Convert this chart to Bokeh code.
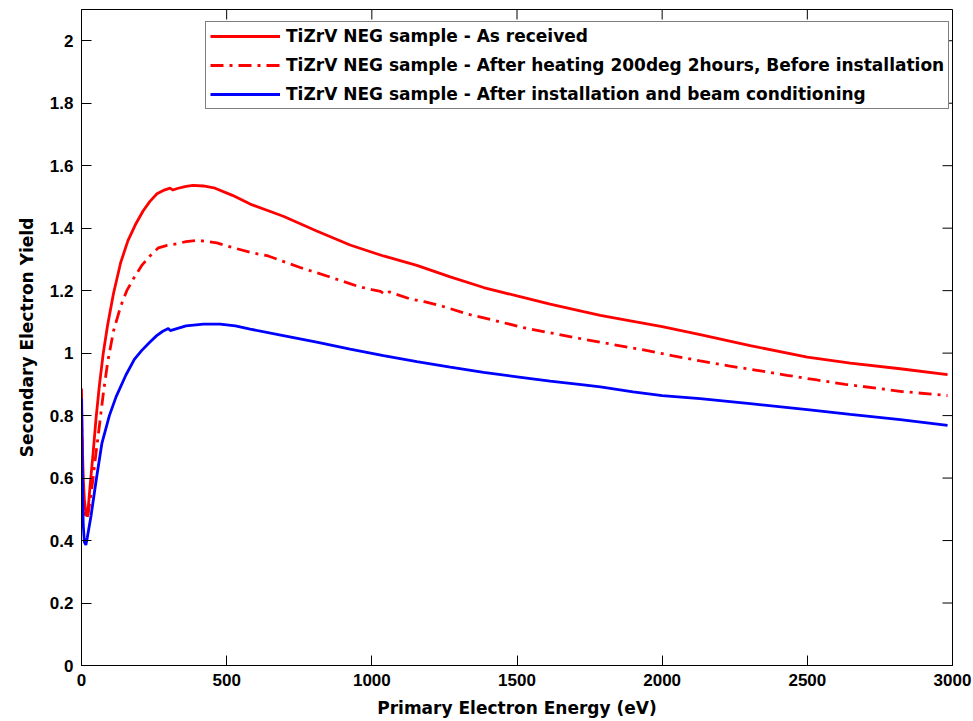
import math
from bokeh.plotting import figure
from bokeh.models import Range1d, LinearAxis, FixedTicker, Legend, LegendItem
from bokeh.embed import file_html
from bokeh.resources import INLINE

# ---- data ----
e_received = [0, 3, 6, 10, 16, 21, 30, 40, 50, 62, 75, 90, 110, 135, 160, 185, 212, 235, 260,
              285, 305, 315, 330, 360, 384, 420, 460, 520, 581, 695, 810, 925, 1040, 1155, 1270,
              1385, 1500, 1614, 1729, 1787, 1900, 2000, 2131, 2303, 2500, 2648, 2820, 2983]
y_received = [0.887, 0.70, 0.60, 0.53, 0.48, 0.48, 0.58, 0.68, 0.79, 0.90, 1.00, 1.09, 1.19, 1.29,
              1.36, 1.41, 1.455, 1.485, 1.51, 1.522, 1.528, 1.522, 1.527, 1.534, 1.537, 1.535,
              1.528, 1.505, 1.477, 1.438, 1.391, 1.346, 1.311, 1.281, 1.244, 1.21, 1.183, 1.157,
              1.133, 1.121, 1.102, 1.085, 1.059, 1.024, 0.987, 0.968, 0.95, 0.931]

e_heated = [0, 3, 6, 10, 16, 22, 30, 40, 50, 62, 75, 90, 110, 135, 156, 180, 207, 235, 265, 295,
            328, 360, 397, 430, 466, 520, 593, 643, 753, 845, 948, 1000, 1030, 1045, 1060, 1130,
            1184, 1240, 1330, 1425, 1520, 1620, 1720, 1787, 1833, 1936, 2034, 2131, 2229, 2327,
            2430, 2533, 2631, 2729, 2826, 2937, 2983]
y_heated = [0.82, 0.65, 0.56, 0.50, 0.47, 0.48, 0.53, 0.60, 0.68, 0.77, 0.87, 0.97, 1.07, 1.15,
            1.20, 1.24, 1.28, 1.31, 1.337, 1.345, 1.35, 1.357, 1.361, 1.358, 1.353, 1.338, 1.32,
            1.311, 1.274, 1.247, 1.215, 1.203, 1.198, 1.188, 1.196, 1.174, 1.164, 1.151, 1.125,
            1.104, 1.082, 1.064, 1.046, 1.035, 1.027, 1.01, 0.992, 0.975, 0.959, 0.945, 0.929,
            0.914, 0.9, 0.889, 0.877, 0.868, 0.864]

e_conditioned = [0, 3, 6, 10, 15, 20, 33, 50, 70, 96, 119, 153, 182, 207, 235, 259, 280, 299, 306,
                 320, 360, 420, 477, 530, 581, 695, 810, 925, 1040, 1155, 1270, 1385, 1500, 1614,
                 1729, 1787, 1900, 2000, 2131, 2303, 2500, 2648, 2820, 2983]
y_conditioned = [0.855, 0.60, 0.45, 0.395, 0.386, 0.41, 0.48, 0.59, 0.71, 0.80, 0.86, 0.93, 0.98,
                 1.008, 1.035, 1.056, 1.07, 1.079, 1.072, 1.076, 1.087, 1.093, 1.093, 1.087, 1.077,
                 1.056, 1.035, 1.013, 0.992, 0.973, 0.955, 0.938, 0.924, 0.91, 0.898, 0.892, 0.876,
                 0.864, 0.854, 0.838, 0.819, 0.804, 0.787, 0.769]

series_labels = ["TiZrV NEG sample - As received",
                 "TiZrV NEG sample - After heating 200deg 2hours, Before installation",
                 "TiZrV NEG sample - After installation and beam conditioning"]

x_min, x_max = 0, 3000
y_min, y_max = 0, 2.1
x_ticks = [0, 500, 1000, 1500, 2000, 2500, 3000]
x_tick_labels = ["0", "500", "1000", "1500", "2000", "2500", "3000"]
y_ticks = [0, 0.2, 0.4, 0.6, 0.8, 1, 1.2, 1.4, 1.6, 1.8, 2]
y_tick_labels = ["0", "0.2", "0.4", "0.6", "0.8", "1", "1.2", "1.4", "1.6", "1.8", "2"]

x_title = "Primary Electron Energy (eV)"
y_title = "Secondary Electron Yield"

# ---- figure ----
p = figure(width=972, height=720, output_backend="svg", toolbar_location=None,
           x_range=Range1d(x_min, x_max), y_range=Range1d(y_min, y_max),
           x_axis_location=None, y_axis_location=None,
           min_border_left=81, min_border_right=20, min_border_top=9, min_border_bottom=54)
p.xgrid.visible = False
p.ygrid.visible = False
p.outline_line_color = "black"
p.outline_line_width = 1
p.background_fill_color = "white"
p.border_fill_color = "white"

TICK_FONT = "Liberation Sans"
LABEL_FONT = "DejaVu Sans"


def style_axis(ax):
    ax.major_tick_in = 10
    ax.major_tick_out = 0
    ax.minor_tick_line_color = None
    ax.axis_line_color = "black"
    ax.major_tick_line_color = "black"
    ax.major_label_text_font = TICK_FONT
    ax.major_label_text_font_style = "bold"
    ax.major_label_text_color = "black"
    ax.major_label_text_font_size = "17px"
    ax.major_label_standoff = 8
    ax.axis_label_text_font = LABEL_FONT
    ax.axis_label_text_font_style = "bold"
    ax.axis_label_text_font_size = "17px"
    ax.axis_label_text_color = "black"


xb = LinearAxis(ticker=FixedTicker(ticks=x_ticks),
                major_label_overrides=dict(zip(x_ticks, x_tick_labels)))
style_axis(xb)
xb.axis_label = x_title
xb.axis_label_standoff = 9
p.add_layout(xb, "below")

yl = LinearAxis(ticker=FixedTicker(ticks=y_ticks),
                major_label_overrides=dict(zip(y_ticks, y_tick_labels)))
style_axis(yl)
yl.axis_label = y_title
yl.axis_label_standoff = 10
p.add_layout(yl, "left")

# inward ticks on the top and right edges of the box (centred on the edge, clipped by the frame)
p.scatter(x=x_ticks, y=[y_max] * len(x_ticks), marker="dash", size=20, angle=math.pi / 2,
          line_color="black", line_width=1)
p.scatter(x=[x_max] * len(y_ticks), y=y_ticks, marker="dash", size=20,
          line_color="black", line_width=1)

r1 = p.line(e_received, y_received, line_color="#ff0000", line_width=2.8)
r2 = p.line(e_heated, y_heated, line_color="#ff0000", line_width=2.8, line_dash="13 6 3 6")
r3 = p.line(e_conditioned, y_conditioned, line_color="#0000ff", line_width=2.8)

legend = Legend(items=[LegendItem(label=series_labels[0], renderers=[r1]),
                       LegendItem(label=series_labels[1], renderers=[r2]),
                       LegendItem(label=series_labels[2], renderers=[r3])],
                location=(124, 556))
legend.label_text_font = LABEL_FONT
legend.label_text_font_style = "bold"
legend.label_text_font_size = "17px"
legend.label_text_color = "black"
legend.padding = 4
legend.spacing = 9
legend.glyph_width = 70
legend.glyph_height = 20
legend.label_height = 20
legend.label_standoff = 6
legend.label_width = 650
legend.margin = 0
legend.border_line_color = "black"
legend.border_line_width = 1
legend.background_fill_color = "white"
legend.background_fill_alpha = 1
p.add_layout(legend)

open("out.html", "w").write(file_html(p, INLINE))
